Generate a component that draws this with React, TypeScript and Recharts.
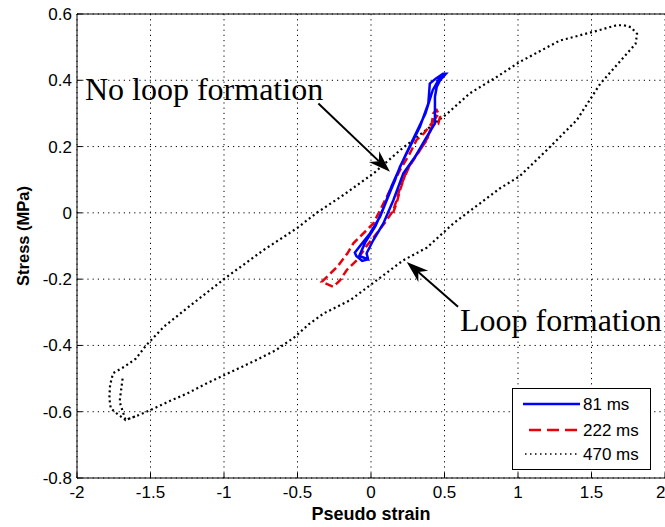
import React from "react";
import {
  LineChart,
  Line,
  XAxis,
  YAxis,
  CartesianGrid,
  ReferenceLine,
  ReferenceDot,
} from "recharts";

const xTicks = [-2, -1.5, -1, -0.5, 0, 0.5, 1, 1.5, 2];
const yTicks = [-0.8, -0.6, -0.4, -0.2, 0, 0.2, 0.4, 0.6];
const seriesNames = ["81 ms", "222 ms", "470 ms"];

// 81 ms (blue, solid)
const strain81 = [
  -0.02, -0.06, -0.1, -0.11, -0.075, -0.007, 0.061, 0.107, 0.163, 0.197, 0.265,
  0.333, 0.39, 0.4, 0.44, 0.49, 0.51, 0.47, 0.447, 0.435, 0.435, 0.38, 0.3, 0.22,
  0.152, 0.084, 0.016, -0.03, -0.02, -0.08, -0.04, 0.03, 0.09, 0.14, 0.23, 0.3,
  0.37, 0.42, 0.47, 0.5,
];
const stress81 = [
  -0.14, -0.145, -0.13, -0.12, -0.1, -0.062, -0.012, 0.038, 0.099, 0.139, 0.2,
  0.26, 0.33, 0.39, 0.405, 0.42, 0.42, 0.4, 0.38, 0.35, 0.27, 0.23, 0.169, 0.119,
  0.038, -0.032, -0.082, -0.122, -0.14, -0.13, -0.09, -0.04, 0.02, 0.08, 0.17,
  0.235, 0.3, 0.37, 0.41, 0.415,
];

// 222 ms (red, dashed)
const strain222 = [
  0.15, 0.175, 0.197, 0.243, 0.3, 0.38, 0.41, 0.424, 0.447, 0.47, 0.458, 0.43,
  0.36, 0.31, 0.265, 0.197, 0.129, 0.073, 0.016, -0.075, -0.12, -0.16, -0.23,
  -0.3, -0.335, -0.31, -0.256, -0.21, -0.166, -0.097, -0.03, 0.039, 0.107, 0.152,
  0.175, 0.2, 0.26, 0.32, 0.39, 0.43, 0.46,
];
const stress222 = [
  0.0, 0.03, 0.068, 0.129, 0.169, 0.22, 0.26, 0.3, 0.31, 0.29, 0.27, 0.28, 0.24,
  0.22, 0.18, 0.129, 0.068, 0.018, -0.032, -0.072, -0.092, -0.122, -0.163, -0.193,
  -0.208, -0.213, -0.223, -0.203, -0.173, -0.143, -0.1, -0.062, -0.022, 0.008,
  0.04, 0.08, 0.14, 0.18, 0.23, 0.28, 0.3,
];

// 470 ms (black, dotted)
const strain470 = [
  -1.69, -1.7, -1.71, -1.67, -1.58, -1.5, -1.38, -1.25, -1.12, -1.0, -0.88,
  -0.78, -0.65, -0.52, -0.42, -0.32, -0.14, 0.04, 0.22, 0.38, 0.56, 0.74, 0.88,
  1.01, 1.195, 1.4, 1.56, 1.72, 1.8, 1.81, 1.77, 1.72, 1.67, 1.51, 1.285, 1.01,
  0.855, 0.67, 0.52, 0.36, 0.2, 0.02, -0.2, -0.37, -0.5, -0.73, -0.98, -1.21,
  -1.41, -1.53, -1.6, -1.68, -1.755, -1.775, -1.78, -1.77, -1.73, -1.67, -1.58,
];
const stress470 = [
  -0.5, -0.535, -0.57, -0.625, -0.61, -0.595, -0.57, -0.545, -0.515, -0.49,
  -0.465, -0.444, -0.415, -0.375, -0.335, -0.303, -0.263, -0.203, -0.143, -0.105,
  -0.032, 0.028, 0.075, 0.11, 0.189, 0.28, 0.39, 0.47, 0.51, 0.54, 0.56, 0.566,
  0.566, 0.546, 0.52, 0.455, 0.41, 0.36, 0.3, 0.245, 0.19, 0.12, 0.05, 0.0,
  -0.045, -0.112, -0.193, -0.273, -0.344, -0.4, -0.44, -0.465, -0.484, -0.52,
  -0.56, -0.59, -0.605, -0.625, -0.61,
];

const toPoints = (xs: number[], ys: number[]) =>
  xs.map((x, i) => ({ x, y: ys[i] }));

const data81 = toPoints(strain81, stress81);
const data222 = toPoints(strain222, stress222);
const data470 = toPoints(strain470, stress470);

const SANS = "'Liberation Sans', Arial, sans-serif";
const SERIF = "'Liberation Serif', 'Times New Roman', serif";

const Arrow = (p: any) => {
  const { x1, y1, x2, y2 } = p;
  const ang = Math.atan2(y2 - y1, x2 - x1);
  const len = 22;
  const half = 7.5;
  const bx = x2 - len * Math.cos(ang);
  const by = y2 - len * Math.sin(ang);
  const nx = -Math.sin(ang);
  const ny = Math.cos(ang);
  const notchX = x2 - len * 0.7 * Math.cos(ang);
  const notchY = y2 - len * 0.7 * Math.sin(ang);
  return (
    <g>
      <line x1={x1} y1={y1} x2={notchX} y2={notchY} stroke="#000" strokeWidth={2} />
      <polygon
        points={`${x2},${y2} ${bx + nx * half},${by + ny * half} ${notchX},${notchY} ${bx - nx * half},${by - ny * half}`}
        fill="#000"
      />
    </g>
  );
};

const annotText = (value: string) => (p: any) =>
  (
    <text x={p.cx} y={p.cy} fontFamily={SERIF} fontSize={32} fill="#000">
      {value}
    </text>
  );

const YLabel = (p: any) => {
  const vb = p.viewBox;
  const cx = 23;
  const cy = vb.y + vb.height / 2 - 10;
  return (
    <text
      x={cx}
      y={cy}
      transform={`rotate(-90 ${cx} ${cy})`}
      textAnchor="middle"
      dominantBaseline="central"
      fontFamily={SANS}
      fontWeight="bold"
      fontSize={16.5}
      fill="#000"
    >
      Stress (MPa)
    </text>
  );
};

const XLabel = (p: any) => {
  const vb = p.viewBox;
  return (
    <text
      x={vb.x + vb.width / 2}
      y={520}
      textAnchor="middle"
      fontFamily={SANS}
      fontWeight="bold"
      fontSize={18}
      fill="#000"
    >
      Pseudo strain
    </text>
  );
};

const LegendBox = () => {
  const rows = [
    { name: seriesNames[0], color: "#0000ff", dash: undefined, x1: 10, y: 15, w: 2.5 },
    { name: seriesNames[1], color: "#e8000b", dash: "12 6", x1: 16, y: 41, w: 2.5 },
    { name: seriesNames[2], color: "#000", dash: "1.5 3.5", x1: 12, y: 65, w: 1.5 },
  ];
  return (
    <div
      style={{
        position: "absolute",
        left: 512,
        top: 388,
        width: 139,
        height: 82,
        border: "1px solid #000",
        background: "#fff",
        boxSizing: "border-box",
      }}
    >
      <svg width={137} height={80} style={{ display: "block" }}>
        {rows.map((r) => (
          <g key={r.name}>
            <line
              x1={r.x1}
              x2={67}
              y1={r.y}
              y2={r.y}
              stroke={r.color}
              strokeWidth={r.w}
              strokeDasharray={r.dash}
            />
            <text
              x={70}
              y={r.y}
              dominantBaseline="central"
              fontFamily={SANS}
              fontSize={17}
              fill="#000"
            >
              {r.name}
            </text>
          </g>
        ))}
      </svg>
    </div>
  );
};

const tickStyle = { fill: "#000", fontSize: 17, fontFamily: SANS };

export default function App() {
  return (
    <div
      style={{
        position: "absolute",
        left: 0,
        top: 0,
        width: 665,
        height: 527,
        background: "#fff",
        overflow: "hidden",
      }}
    >
      <LineChart
        width={665}
        height={527}
        margin={{ top: 13, right: 0, bottom: 0, left: 0 }}
      >
        <CartesianGrid stroke="#000" strokeDasharray="1.2 4" />
        <XAxis
          type="number"
          dataKey="x"
          domain={[-2, 2]}
          ticks={xTicks}
          allowDataOverflow
          height={49}
          tickSize={-5}
          tickMargin={13}
          tick={tickStyle}
          axisLine={{ stroke: "#000" }}
          tickLine={{ stroke: "#000" }}
          label={XLabel}
        />
        <XAxis
          xAxisId="top"
          orientation="top"
          type="number"
          domain={[-2, 2]}
          ticks={xTicks}
          allowDataOverflow
          height={1}
          tickSize={-5}
          tick={false}
          axisLine={{ stroke: "#000" }}
          tickLine={{ stroke: "#000" }}
        />
        <YAxis
          type="number"
          dataKey="y"
          domain={[-0.8, 0.6]}
          ticks={yTicks}
          allowDataOverflow
          width={77}
          tickSize={-5}
          tickMargin={10}
          tick={tickStyle}
          axisLine={{ stroke: "#000" }}
          tickLine={{ stroke: "#000" }}
          label={YLabel}
        />
        <Line
          data={data470}
          dataKey="y"
          name={seriesNames[2]}
          type="linear"
          stroke="#000"
          strokeWidth={2.2}
          strokeDasharray="2 3"
          dot={false}
          isAnimationActive={false}
        />
        <Line
          data={data222}
          dataKey="y"
          name={seriesNames[1]}
          type="linear"
          stroke="#e8000b"
          strokeWidth={2.5}
          strokeDasharray="8 4"
          dot={false}
          isAnimationActive={false}
        />
        <Line
          data={data81}
          dataKey="y"
          name={seriesNames[0]}
          type="linear"
          stroke="#0000ff"
          strokeWidth={2.5}
          dot={false}
          isAnimationActive={false}
        />
        <ReferenceLine
          segment={[
            { x: -0.358, y: 0.33 },
            { x: 0.129, y: 0.124 },
          ]}
          ifOverflow="visible"
          shape={Arrow}
        />
        <ReferenceLine
          segment={[
            { x: 0.592, y: -0.283 },
            { x: 0.243, y: -0.148 },
          ]}
          ifOverflow="visible"
          shape={Arrow}
        />
        <ReferenceDot
          x={-1.946}
          y={0.34}
          r={0}
          ifOverflow="visible"
          shape={annotText("No loop formation")}
        />
        <ReferenceDot
          x={0.605}
          y={-0.355}
          r={0}
          ifOverflow="visible"
          shape={annotText("Loop formation")}
        />
      </LineChart>
      <LegendBox />
    </div>
  );
}
